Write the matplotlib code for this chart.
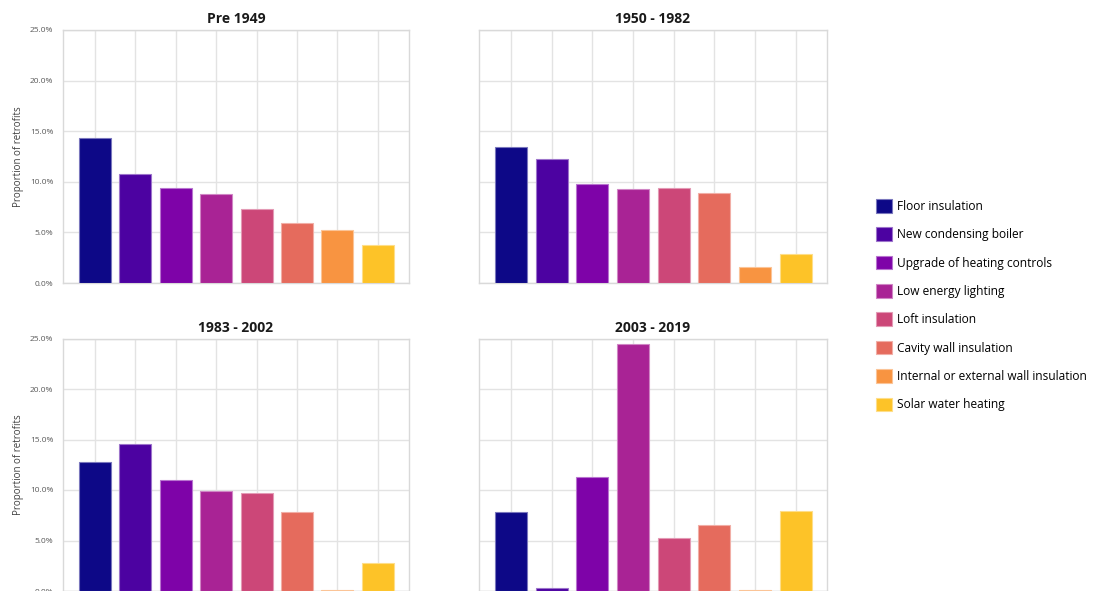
import matplotlib
matplotlib.use("Agg")
import matplotlib.pyplot as plt
from matplotlib.patches import Patch
from matplotlib.ticker import FuncFormatter
import matplotlib.colors as mcolors
import numpy as np

plt.rcParams['font.family'] = ['Open Sans', 'DejaVu Sans']

measures = ["Floor insulation", "New condensing boiler", "Upgrade of heating controls",
            "Low energy lighting", "Loft insulation", "Cavity wall insulation",
            "Internal or external wall insulation", "Solar water heating"]
colors = ['#0d0887', '#4c02a1', '#7e03a8', '#a92395', '#cc4778', '#e56b5d', '#f89441', '#fdc328']

periods = ["Pre 1949", "1950 - 1982", "1983 - 2002", "2003 - 2019"]
pre_1949 = [14.3, 10.8, 9.4, 8.75, 7.35, 5.9, 5.25, 3.8]
p_1950_1982 = [13.4, 12.3, 9.8, 9.3, 9.4, 8.85, 1.6, 2.9]
p_1983_2002 = [12.8, 14.6, 11.0, 9.95, 9.75, 7.85, 0.05, 2.75]
p_2003_2019 = [7.85, 0.3, 11.3, 24.5, 5.25, 6.55, 0.05, 7.95]
series = [pre_1949, p_1950_1982, p_1983_2002, p_2003_2019]
yticks = [0, 5, 10, 15, 20, 25]

W, H = 1094, 591
fig = plt.figure(figsize=(W / 100, H / 100), dpi=100)

def px_axes(x0, x1, ytop, ybot):
    return fig.add_axes([x0 / W, (H - ybot) / H, (x1 - x0) / W, (ybot - ytop) / H])

def light(c):
    return tuple(0.55 * np.array(mcolors.to_rgb(c)) + 0.45)

boxes = [(63, 409, 30, 283), (479, 827, 30, 283), (63, 409, 338.5, 591), (479, 827, 338.5, 591)]

x = np.arange(len(measures))
for i, (box, title, vals) in enumerate(zip(boxes, periods, series)):
    ax = px_axes(*box)
    ax.bar(x, vals, width=0.79, color=colors, edgecolor=[light(c) for c in colors],
           linewidth=0.8, zorder=3)
    ax.set_xlim(-0.79, 7.77)
    ax.set_ylim(0, 25)
    ax.set_yticks(yticks)
    ax.set_xticks(x)
    ax.grid(True, color='#e3e3e3', linewidth=1.0, zorder=0)
    ax.set_axisbelow(True)
    for s in ax.spines.values():
        s.set_color('#d9d9d9')
        s.set_linewidth(1.0)
    ax.tick_params(axis='both', length=0)
    ax.set_xticklabels([])
    if i % 2 == 0:
        ax.yaxis.set_major_formatter(FuncFormatter(lambda v, p: f"{v:.1f}%"))
        ax.tick_params(axis='y', labelsize=6, labelcolor='#595959', pad=7)
        ax.set_ylabel("Proportion of retrofits", fontsize=7, color='#404040', labelpad=4)
    else:
        ax.set_yticklabels([])
    ax.set_title(title, fontsize=10, fontweight='bold', color='#1a1a1a', pad=5)

handles = [Patch(facecolor=c, edgecolor=light(c), linewidth=0.8) for c in colors]
fig.legend(handles, measures, loc='upper left', bbox_to_anchor=(876 / W, (H - 199) / H),
           frameon=False, fontsize=8.6, handlelength=1.38, handleheight=1.38,
           handletextpad=0.36, labelspacing=1.22, borderaxespad=0, borderpad=0)

fig.savefig("out.png", dpi=100)
